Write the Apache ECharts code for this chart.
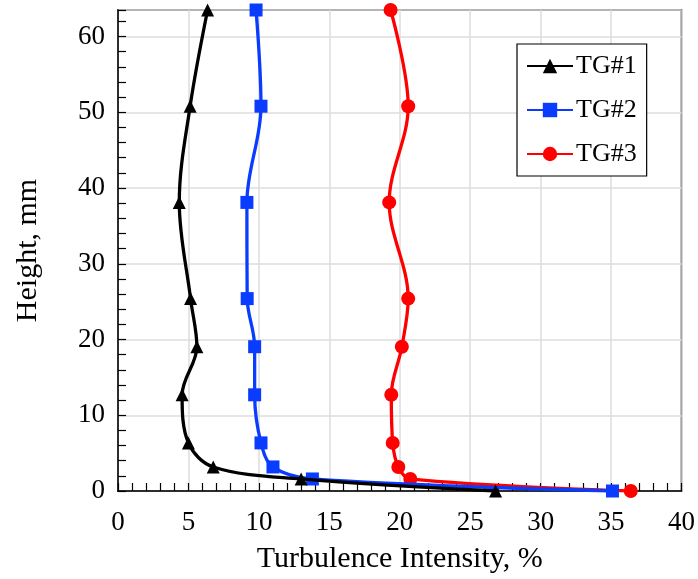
<!DOCTYPE html>
<html>
<head>
<meta charset="utf-8">
<script src="https://cdn.jsdelivr.net/npm/echarts@6/dist/echarts.min.js"></script>
<style>html,body{margin:0;padding:0;background:#fff;}#c{width:698px;height:579px;}</style>
</head>
<body>
<div id="c"></div>
<script>
var heights = [0, 1.5875, 3.175, 6.35, 12.7, 19.05, 25.4, 38.1, 50.8, 63.5];
var tg1 = [26.8, 13.0, 6.76, 5.0, 4.55, 5.6, 5.15, 4.35, 5.12, 6.36];
var tg2 = [35.1, 13.8, 11.0, 10.15, 9.7, 9.7, 9.17, 9.15, 10.15, 9.8];
var tg3 = [36.4, 20.75, 19.9, 19.5, 19.4, 20.15, 20.6, 19.25, 20.6, 19.35];
var xTicks = [0, 5, 10, 15, 20, 25, 30, 35, 40];
var yTicks = [0, 10, 20, 30, 40, 50, 60];
var names = ['TG#1', 'TG#2', 'TG#3'];
var colors = ['#000000', '#0a3cff', '#ff0000'];
var symbols = ['triangle', 'rect', 'circle'];
var symbolSizes = [13, 13, 14];

function pairs(xs) { return xs.map(function (v, i) { return [v, heights[i]]; }); }
var font = 'Liberation Serif';
var chart = echarts.init(document.getElementById('c'));
var seriesData = [tg1, tg2, tg3];
chart.setOption({
  animation: false,
  backgroundColor: '#fff',
  grid: { left: 118, right: 12, top: 10, bottom: 88, show: true, borderColor: '#000', borderWidth: 1.5, backgroundColor: 'transparent' },
  legend: {
    orient: 'vertical', left: 517, top: 44,
    padding: [9, 10, 9, 9], itemGap: 18, itemWidth: 46, itemHeight: 18,
    borderColor: '#000', borderWidth: 1.2, backgroundColor: '#fff',
    textStyle: { fontFamily: font, fontSize: 26, color: '#000', padding: [0, 0, 0, -2] },
    data: names
  },
  xAxis: {
    type: 'value', min: 0, max: 40, interval: 5,
    name: 'Turbulence Intensity, %', nameLocation: 'middle', nameGap: 53,
    nameTextStyle: { fontFamily: font, fontSize: 30, color: '#000' },
    axisLine: { lineStyle: { color: '#000', width: 1.5 } },
    axisTick: { inside: true, length: 8, lineStyle: { color: '#000', width: 1.2 } },
    minorTick: { show: true, splitNumber: 5, length: 8, lineStyle: { color: '#000', width: 1.2 } },
    splitLine: { show: true, lineStyle: { color: '#dcdcdc', width: 1.5 } },
    axisLabel: { fontFamily: font, fontSize: 27, color: '#000', margin: 18,
      formatter: function (v) { return xTicks.indexOf(v) >= 0 ? String(v) : ''; } }
  },
  yAxis: {
    type: 'value', min: 0, max: 63.5, interval: 10,
    name: 'Height, mm', nameLocation: 'middle', nameGap: 75, nameRotate: 90,
    nameTextStyle: { fontFamily: font, fontSize: 30, color: '#000' },
    axisLine: { lineStyle: { color: '#000', width: 1.5 } },
    axisTick: { inside: true, length: 8, lineStyle: { color: '#000', width: 1.2 } },
    minorTick: { show: true, splitNumber: 5, length: 8, lineStyle: { color: '#000', width: 1.2 } },
    splitLine: { show: true, lineStyle: { color: '#dcdcdc', width: 1.5 } },
    axisLabel: { fontFamily: font, fontSize: 27, color: '#000', margin: 13, showMaxLabel: false,
      formatter: function (v) { return yTicks.indexOf(v) >= 0 ? String(v) : ''; } }
  },
  series: seriesData.map(function (d, i) {
    return {
      name: names[i], type: 'line', data: pairs(d), smooth: 0.35,
      symbol: symbols[i], symbolSize: symbolSizes[i], showAllSymbol: true,
      lineStyle: { color: colors[i], width: 3.3 },
      itemStyle: { color: colors[i] },
      z: 3 - i
    };
  })
});
</script>
</body>
</html>
